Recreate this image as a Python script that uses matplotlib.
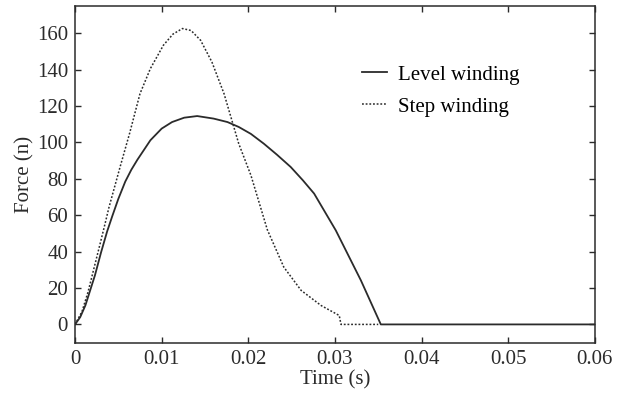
import matplotlib
matplotlib.use("Agg")
import matplotlib.pyplot as plt

# values
level_t = [0, 0.0006, 0.0012, 0.0023, 0.003, 0.0037, 0.0043, 0.005, 0.0058, 0.0065,
           0.0072, 0.0087, 0.01, 0.0112, 0.0126, 0.0141, 0.016, 0.0176, 0.0189,
           0.0203, 0.0218, 0.0233, 0.0249, 0.0263, 0.0276, 0.0301, 0.033, 0.0353, 0.06]
level_f = [0, 4, 10.5, 27, 39.5, 51, 59.5, 69, 78.5, 85,
           90.5, 101.2, 107.6, 111.2, 113.6, 114.5, 113.1, 111.2, 108.5,
           104.7, 99.3, 93.3, 86.5, 79.2, 71.9, 51.7, 24.2, 0, 0]

step_t = [0, 0.0008, 0.0015, 0.0023, 0.0029, 0.0035, 0.0039, 0.0052, 0.0063, 0.0075,
          0.0087, 0.0102, 0.0113, 0.0124, 0.0134, 0.0145, 0.0158, 0.0172, 0.0189,
          0.0203, 0.0222, 0.0241, 0.0261, 0.0284, 0.0305, 0.0307, 0.035]
step_f = [0, 7, 17.8, 33, 44.4, 56, 64, 86.5, 105, 126.8,
          140.6, 153.4, 159.5, 162.6, 161.5, 156.1, 144.2, 126.8, 99.3,
          82, 52, 31.5, 18.7, 10.4, 4.9, 0, 0]

x_ticks = [0, 0.01, 0.02, 0.03, 0.04, 0.05, 0.06]
x_labels = ["0", "0.01", "0.02", "0.03", "0.04", "0.05", "0.06"]
y_ticks = [0, 20, 40, 60, 80, 100, 120, 140, 160]

plt.rcParams['font.family'] = ['Liberation Serif', 'DejaVu Serif']
plt.rcParams['font.size'] = 15

ink = "#2b2b2b"
fig = plt.figure(figsize=(6.17, 3.97), dpi=100)
ax = fig.add_axes([0.1216, 0.137, 0.8424, 0.848])

ax.plot(level_t, level_f, color=ink, lw=1.3, label="Level winding")
ax.plot(step_t, step_f, color=ink, lw=1.1, linestyle=(0, (1.2, 1.2)), label="Step winding")

ax.set_xlim(0, 0.06)
ax.set_ylim(-10, 175)
ax.set_xticks(x_ticks)
ax.set_xticklabels(x_labels)
ax.set_yticks(y_ticks)
ax.tick_params(direction="in", length=4, width=1, color=ink, labelcolor=ink,
               top=True, right=True, pad=5)
for s in ax.spines.values():
    s.set_color(ink)
    s.set_linewidth(1.1)

ax.set_xlabel("Time (s)", color=ink, labelpad=1)
ax.set_ylabel("Force (n)", color=ink, labelpad=2)

ax.legend(loc="upper left", bbox_to_anchor=(0.516, 0.88), frameon=False,
          handlelength=1.2, handletextpad=0.55, labelspacing=0.6, fontsize=15)

fig.savefig("out.png", dpi=100)
